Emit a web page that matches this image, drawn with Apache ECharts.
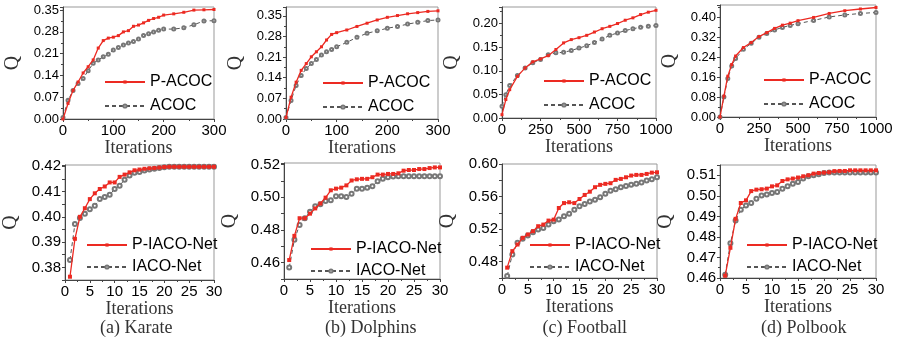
<!DOCTYPE html>
<html>
<head>
<meta charset="utf-8">
<script src="https://cdn.jsdelivr.net/npm/echarts@6.0.0/dist/echarts.min.js"></script>
<style>
  html, body { margin: 0; padding: 0; background: #fff; }
  #chart { width: 898px; height: 343px; }
</style>
</head>
<body>
<div id="chart"></div>
<script>
// ---- data ----
const karateIter = [0, 10, 20, 30, 40, 50, 60, 70, 80, 90, 100, 110, 120, 130, 140, 150, 160, 170, 180, 190, 200, 220, 240, 260, 280, 300];
const karatePACOC = [0.000, 0.050, 0.092, 0.119, 0.148, 0.168, 0.190, 0.228, 0.252, 0.260, 0.263, 0.268, 0.280, 0.284, 0.298, 0.302, 0.309, 0.317, 0.323, 0.327, 0.334, 0.338, 0.343, 0.350, 0.351, 0.352];
const karateACOC = [0.005, 0.060, 0.092, 0.114, 0.130, 0.155, 0.179, 0.190, 0.200, 0.208, 0.222, 0.230, 0.238, 0.244, 0.249, 0.257, 0.268, 0.274, 0.280, 0.285, 0.289, 0.289, 0.293, 0.303, 0.315, 0.316];

const dolphinsIter = [0, 10, 20, 30, 40, 50, 60, 70, 80, 90, 100, 120, 140, 160, 180, 200, 220, 240, 260, 280, 300];
const dolphinsPACOC = [0.005, 0.074, 0.125, 0.165, 0.188, 0.211, 0.228, 0.245, 0.268, 0.287, 0.293, 0.302, 0.314, 0.325, 0.336, 0.345, 0.351, 0.357, 0.361, 0.365, 0.367];
const dolphinsACOC = [0.005, 0.063, 0.114, 0.148, 0.171, 0.188, 0.202, 0.217, 0.228, 0.236, 0.245, 0.260, 0.277, 0.291, 0.299, 0.308, 0.314, 0.322, 0.328, 0.334, 0.336];

const footballIter = [0, 25, 50, 100, 150, 200, 250, 300, 350, 400, 450, 500, 550, 600, 650, 700, 750, 800, 850, 900, 950, 1000];
const footballPACOC = [0.007, 0.039, 0.060, 0.088, 0.106, 0.119, 0.125, 0.132, 0.145, 0.159, 0.166, 0.170, 0.175, 0.182, 0.189, 0.194, 0.200, 0.207, 0.212, 0.219, 0.224, 0.228];
const footballACOC = [0.025, 0.049, 0.069, 0.090, 0.106, 0.117, 0.124, 0.134, 0.138, 0.139, 0.143, 0.148, 0.153, 0.160, 0.167, 0.175, 0.180, 0.185, 0.189, 0.192, 0.194, 0.196];

const polbookIter = [0, 25, 50, 75, 100, 150, 200, 250, 300, 350, 400, 450, 500, 600, 700, 800, 900, 1000];
const polbookPACOC = [0.000, 0.084, 0.164, 0.211, 0.245, 0.279, 0.299, 0.323, 0.339, 0.356, 0.369, 0.377, 0.387, 0.400, 0.416, 0.427, 0.434, 0.440];
const polbookACOC = [0.000, 0.080, 0.155, 0.205, 0.235, 0.272, 0.296, 0.320, 0.335, 0.350, 0.360, 0.368, 0.375, 0.388, 0.402, 0.410, 0.416, 0.420];

const netIter = [1, 2, 3, 4, 5, 6, 7, 8, 9, 10, 11, 12, 13, 14, 15, 16, 17, 18, 19, 20, 21, 22, 23, 24, 25, 26, 27, 28, 29, 30];
const karatePIACO = [0.3763, 0.3913, 0.4000, 0.4034, 0.4070, 0.4093, 0.4110, 0.4120, 0.4136, 0.4136, 0.4158, 0.4167, 0.4176, 0.4184, 0.4187, 0.4190, 0.4192, 0.4193, 0.4195, 0.4197, 0.4198, 0.4198, 0.4198, 0.4198, 0.4198, 0.4198, 0.4198, 0.4198, 0.4198, 0.4198];
const karateIACO = [0.3829, 0.3972, 0.3995, 0.4012, 0.4030, 0.4044, 0.4070, 0.4078, 0.4087, 0.4110, 0.4123, 0.4147, 0.4163, 0.4174, 0.4177, 0.4183, 0.4187, 0.4190, 0.4193, 0.4196, 0.4198, 0.4198, 0.4198, 0.4198, 0.4198, 0.4198, 0.4198, 0.4198, 0.4198, 0.4198];
const dolphinsPIACO = [0.4616, 0.4764, 0.4872, 0.4872, 0.4900, 0.4932, 0.4962, 0.4998, 0.5043, 0.5053, 0.5059, 0.5073, 0.5103, 0.5110, 0.5113, 0.5113, 0.5123, 0.5139, 0.5139, 0.5143, 0.5143, 0.5147, 0.5163, 0.5167, 0.5167, 0.5173, 0.5173, 0.5179, 0.5183, 0.5183];
const dolphinsIACO = [0.4570, 0.4741, 0.4831, 0.4872, 0.4912, 0.4946, 0.4958, 0.4978, 0.4982, 0.5006, 0.5006, 0.5002, 0.5022, 0.5053, 0.5053, 0.5059, 0.5067, 0.5099, 0.5113, 0.5123, 0.5127, 0.5129, 0.5129, 0.5129, 0.5129, 0.5129, 0.5129, 0.5129, 0.5129, 0.5129];
const footballPIACO = [0.4727, 0.4930, 0.5011, 0.5093, 0.5134, 0.5175, 0.5236, 0.5256, 0.5305, 0.5317, 0.5460, 0.5520, 0.5530, 0.5520, 0.5570, 0.5620, 0.5660, 0.5715, 0.5744, 0.5756, 0.5764, 0.5805, 0.5817, 0.5837, 0.5858, 0.5866, 0.5866, 0.5878, 0.5894, 0.5898];
const footballIACO = [0.4625, 0.4890, 0.5032, 0.5081, 0.5122, 0.5163, 0.5195, 0.5215, 0.5256, 0.5297, 0.5317, 0.5358, 0.5390, 0.5439, 0.5480, 0.5508, 0.5540, 0.5560, 0.5593, 0.5634, 0.5670, 0.5690, 0.5715, 0.5730, 0.5744, 0.5756, 0.5772, 0.5797, 0.5813, 0.5837];
const polbookPIACO = [0.4611, 0.4747, 0.4888, 0.4965, 0.4978, 0.5023, 0.5030, 0.5032, 0.5035, 0.5046, 0.5051, 0.5072, 0.5080, 0.5084, 0.5089, 0.5095, 0.5100, 0.5108, 0.5111, 0.5113, 0.5115, 0.5120, 0.5121, 0.5121, 0.5124, 0.5124, 0.5124, 0.5124, 0.5124, 0.5124];
const polbookIACO = [0.4616, 0.4769, 0.4880, 0.4932, 0.4953, 0.4965, 0.4986, 0.5002, 0.5007, 0.5014, 0.5019, 0.5035, 0.5046, 0.5059, 0.5067, 0.5084, 0.5095, 0.5100, 0.5105, 0.5111, 0.5113, 0.5113, 0.5113, 0.5113, 0.5113, 0.5113, 0.5113, 0.5113, 0.5113, 0.5113];

const captions = ['(a) Karate', '(b) Dolphins', '(c) Football', '(d) Polbook'];
const topNames = ['P-ACOC', 'ACOC'];
const bottomNames = ['P-IACO-Net', 'IACO-Net'];

var chart = echarts.init(document.getElementById('chart'));

const RED = '#ec2a22';
const GRAY = '#555';
const SANS = 'Liberation Sans, Arial, sans-serif';
const SERIF = 'Liberation Serif, Times New Roman, serif';

// panel layout: grid rect, x axis, y axis (labelFrom/labelStep pick which ticks get a label), legend spot
const panels = [
  { rect: [63, 7, 151, 112], x: [0, 300, 100], y: [0, 0.36, 0.07, 0, 0.07], legend: [104, 74], names: topNames, iter: karateIter, a: karatePACOC, b: karateACOC },
  { rect: [286, 7, 152, 112], x: [0, 300, 100], y: [0, 0.38, 0.07, 0, 0.07], legend: [322, 75], names: topNames, iter: dolphinsIter, a: dolphinsPACOC, b: dolphinsACOC },
  { rect: [502, 7, 154, 111], x: [0, 1000, 250], y: [0, 0.235, 0.05, 0, 0.05], legend: [543, 73], names: topNames, iter: footballIter, a: footballPACOC, b: footballACOC },
  { rect: [720, 5, 156, 112], x: [0, 1000, 250], y: [0, 0.45, 0.08, 0, 0.08], legend: [763, 72], names: topNames, iter: polbookIter, a: polbookPACOC, b: polbookACOC },
  { rect: [60, 165, 154, 115], x: [0, 30, 5], y: [0.375, 0.4205, 0.005, 0.38, 0.01], legend: [86, 237], names: bottomNames, iter: netIter, a: karatePIACO, b: karateIACO },
  { rect: [284, 163, 156, 116], x: [0, 30, 5], y: [0.45, 0.521, 0.01, 0.46, 0.02], legend: [310, 241], names: bottomNames, iter: netIter, a: dolphinsPIACO, b: dolphinsIACO },
  { rect: [502, 164, 155, 114], x: [0, 30, 5], y: [0.46, 0.60, 0.02, 0.48, 0.04], legend: [529, 237], names: bottomNames, iter: netIter, a: footballPIACO, b: footballIACO },
  { rect: [720, 165, 156, 113], x: [0, 30, 5], y: [0.46, 0.515, 0.01, 0.46, 0.01], legend: [746, 237], names: bottomNames, iter: netIter, a: polbookPIACO, b: polbookIACO }
];

const grid = [], xAxis = [], yAxis = [], series = [], legend = [], title = [];

panels.forEach((p, i) => {
  const bottom = i >= 4;
  grid.push({
    left: p.rect[0], top: p.rect[1], width: p.rect[2], height: p.rect[3],
    show: true, borderColor: '#999', borderWidth: 1, backgroundColor: 'transparent'
  });
  xAxis.push({
    gridIndex: i, type: 'value', min: p.x[0], max: p.x[1], interval: p.x[2],
    name: 'Iterations', nameLocation: 'middle', nameGap: bottom ? 18 : 20,
    nameTextStyle: { fontFamily: SERIF, fontSize: 18, color: '#333' },
    axisLine: { onZero: false, lineStyle: { color: '#444', width: 1 } },
    axisTick: { length: 3, lineStyle: { color: '#444' } },
    minorTick: { show: true, splitNumber: 2, length: 2, lineStyle: { color: '#444' } },
    splitLine: { show: false },
    axisLabel: { fontFamily: SANS, fontSize: 15, color: '#000', margin: 4, formatter: (v) => String(v) }
  });
  const lf = p.y[3], ls = p.y[4];
  yAxis.push({
    gridIndex: i, type: 'value', min: p.y[0], max: p.y[1], interval: p.y[2],
    name: 'Q', nameLocation: 'middle', nameGap: bottom ? 44 : 40,
    nameTextStyle: { fontFamily: SERIF, fontSize: 20, color: '#333' },
    axisLine: { show: true, onZero: false, lineStyle: { color: '#444', width: 1 } },
    axisTick: { length: 3, lineStyle: { color: '#444' } },
    minorTick: { show: !bottom || i === 7, splitNumber: 2, length: 2, lineStyle: { color: '#444' } },
    splitLine: { show: false },
    axisLabel: {
      fontFamily: SANS, fontSize: bottom ? 15 : 13, color: '#000', margin: 4,
      formatter: function (v) {
        const k = (v - lf) / ls;
        return Math.abs(k - Math.round(k)) < 1e-6 && k > -1e-6 ? v.toFixed(2) : '';
      }
    }
  });
  series.push({
    name: p.names[0], type: 'line', xAxisIndex: i, yAxisIndex: i,
    data: p.iter.map((x, j) => [x, p.a[j]]),
    symbol: 'rect', symbolSize: bottom ? 4 : 3,
    itemStyle: { color: RED },
    lineStyle: { color: RED, width: 1.3 },
    z: 3
  });
  series.push({
    name: p.names[1], type: 'line', xAxisIndex: i, yAxisIndex: i,
    data: p.iter.map((x, j) => [x, p.b[j]]),
    symbol: 'emptyCircle', symbolSize: bottom ? 4 : 3,
    itemStyle: { color: '#777', borderWidth: 1 },
    lineStyle: { color: GRAY, width: 1, type: [4, 3] },
    z: 2
  });
  legend.push({
    data: p.names, orient: 'vertical', left: p.legend[0], top: p.legend[1],
    padding: 0, itemWidth: 40, itemHeight: 4, itemGap: bottom ? 6 : 8,
    textStyle: { fontFamily: SANS, fontSize: 16, color: '#000', lineHeight: 16 },
    selectedMode: false
  });
});

captions.forEach((c, i) => {
  const r = panels[i + 4].rect;
  title.push({
    text: c, left: r[0] + r[2] / 2 - 37, top: 319, padding: 0,
    textStyle: { fontFamily: SERIF, fontSize: 18, fontWeight: 'normal', color: '#333' }
  });
});

var option = {
  animation: false,
  backgroundColor: '#fff',
  title, grid, xAxis, yAxis, series, legend
};

option && chart.setOption(option);
</script>
</body>
</html>
